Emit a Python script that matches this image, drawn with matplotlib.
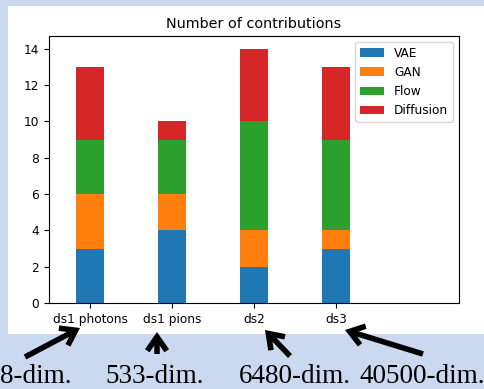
import matplotlib
matplotlib.use("Agg")
import matplotlib.pyplot as plt
from matplotlib.patches import Rectangle, FancyArrowPatch
import numpy as np

## data
datasets = ["ds1 photons", "ds1 pions", "ds2", "ds3"]
vae = [3, 4, 2, 3]
gan = [3, 2, 2, 1]
flow = [3, 3, 6, 5]
diffusion = [4, 1, 4, 4]
dims = ["368-dim.", "533-dim.", "6480-dim.", "40500-dim."]

W, H = 485, 389
fig = plt.figure(figsize=(W / 100, H / 100), dpi=100)
fig.patch.set_facecolor("#cbd9f0")

# white panel behind the plot
fig.patches.append(Rectangle((8 / W, 1 - 334 / H), 1.0, 328 / H,
                             transform=fig.transFigure, facecolor="white",
                             edgecolor="none", zorder=-10))

ax = fig.add_axes([49 / W, 1 - 303 / H, 410 / W, 267 / H])
ax.set_facecolor("white")

x = np.arange(len(datasets))
width = 0.33
bottom = np.zeros(len(datasets))
for vals, lab in [(vae, "VAE"), (gan, "GAN"), (flow, "Flow"), (diffusion, "Diffusion")]:
    ax.bar(x, vals, width, bottom=bottom, label=lab)
    bottom = bottom + np.array(vals)

ax.set_xlim(-0.5, 4.5)
ax.set_ylim(0, 14.7)
ax.set_yticks(range(0, 15, 2))
ax.set_xticks(x)
ax.set_xticklabels(datasets)
ax.tick_params(labelsize=8.7)
ax.set_title("Number of contributions", fontsize=10.4)
ax.legend(loc="upper right", fontsize=8.7)

# arrows from the dimension labels up to the tick labels (figure pixels)
arrows = [((25, 32), (80, 61)), ((157, 35), (157, 57)),
          ((290, 33), (265, 59)), ((423, 35), (345, 59))]
for tail, head in arrows:
    fig.add_artist(FancyArrowPatch(
        (tail[0] / W, tail[1] / H), (head[0] / W, head[1] / H),
        transform=fig.transFigure, arrowstyle="->,head_length=0.5,head_width=0.35",
        lw=4, color="black", mutation_scale=20, shrinkA=0, shrinkB=0,
        capstyle="butt", joinstyle="miter"))

text_pos = [(72, "right"), (155, "center"), (295, "center"), (360, "left")]
for lab, (px, ha) in zip(dims, text_pos):
    fig.text(px / W, 6 / H, lab, ha=ha, va="baseline",
             fontsize=19.5, family="Liberation Serif")

fig.savefig("out.png", dpi=100, facecolor=fig.get_facecolor())
